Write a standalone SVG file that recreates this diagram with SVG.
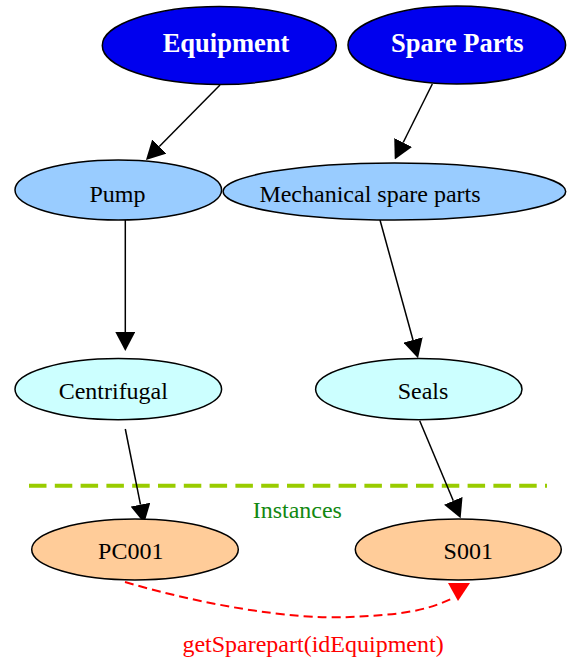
<svg xmlns="http://www.w3.org/2000/svg" width="568" height="660" viewBox="0 0 568 660">
<style>
  .node ellipse { stroke: #000; stroke-width: 1.5; }
  .top ellipse { fill: #0000ee; }
  .cls ellipse { fill: #99ccff; }
  .sub ellipse { fill: #ccffff; }
  .inst ellipse { fill: #ffcc99; }
  text { font-family: "Liberation Serif", "Times New Roman", serif; font-size: 24px; text-anchor: middle; fill: #000; }
  .top text { font-weight: bold; font-size: 26.5px; fill: #fff; }
  .edge { stroke: #000; stroke-width: 1.5; fill: none; marker-end: url(#ah); }
  .call { stroke: #ff0000; stroke-width: 2; fill: none; stroke-dasharray: 9 5; }
</style>
<defs>
  <marker id="ah" markerUnits="userSpaceOnUse" viewBox="0 0 19 20" markerWidth="19" markerHeight="20" refX="0" refY="10" orient="auto">
    <path d="M0,0 L19,10 L0,20 z" fill="#000"/>
  </marker>
</defs>
<rect width="568" height="660" fill="#fff"/>

<g id="separator">
  <line x1="29" y1="485.7" x2="547" y2="485.7" stroke="#99cc00" stroke-width="4" stroke-dasharray="17.5 8.3"/>
  <text x="297.3" y="517.7" style="fill:#118811">Instances</text>
</g>

<g id="connectors">
  <path class="edge" d="M220,85 L159.3,146.5"/>
  <path class="edge" d="M432.3,84 L403.2,142.5"/>
  <path class="edge" d="M125.3,220 L125.3,332"/>
  <path class="edge" d="M380,220 L413,340"/>
  <path class="edge" d="M125.3,429 L140.5,504.7"/>
  <path class="edge" d="M419.7,420.7 L453.3,500.8"/>
  <g id="call-edge">
    <path class="call" d="M125,582 C200,604 290,620 350,617 C395,615 425,612 453,598"/>
    <polygon points="448,583 470,583 458,601" fill="#ff0000"/>
    <text x="313" y="652" style="fill:#ff0000">getSparepart(idEquipment)</text>
  </g>
</g>

<g id="equipment" class="node top">
  <ellipse cx="219.3" cy="45.5" rx="117" ry="39"/>
  <text x="226" y="52">Equipment</text>
</g>
<g id="spare-parts" class="node top">
  <ellipse cx="456.8" cy="45" rx="108.8" ry="39"/>
  <text x="457.3" y="51.7">Spare Parts</text>
</g>
<g id="pump" class="node cls">
  <ellipse cx="118.3" cy="190" rx="103.3" ry="30"/>
  <text x="117.5" y="201.7">Pump</text>
</g>
<g id="mechanical" class="node cls">
  <ellipse cx="394.4" cy="191.5" rx="171.3" ry="28.5"/>
  <text x="370" y="201.5">Mechanical spare parts</text>
</g>
<g id="centrifugal" class="node sub">
  <ellipse cx="118.3" cy="389.2" rx="103.3" ry="30.6"/>
  <text x="113.3" y="399">Centrifugal</text>
</g>
<g id="seals" class="node sub">
  <ellipse cx="418.8" cy="389.2" rx="103.2" ry="30.6"/>
  <text x="423" y="399">Seals</text>
</g>
<g id="pc001" class="node inst">
  <ellipse cx="135" cy="549.5" rx="103.3" ry="30.5"/>
  <text x="130.8" y="559">PC001</text>
</g>
<g id="s001" class="node inst">
  <ellipse cx="458.3" cy="549.5" rx="103" ry="30.5"/>
  <text x="468.3" y="559">S001</text>
</g>
</svg>
